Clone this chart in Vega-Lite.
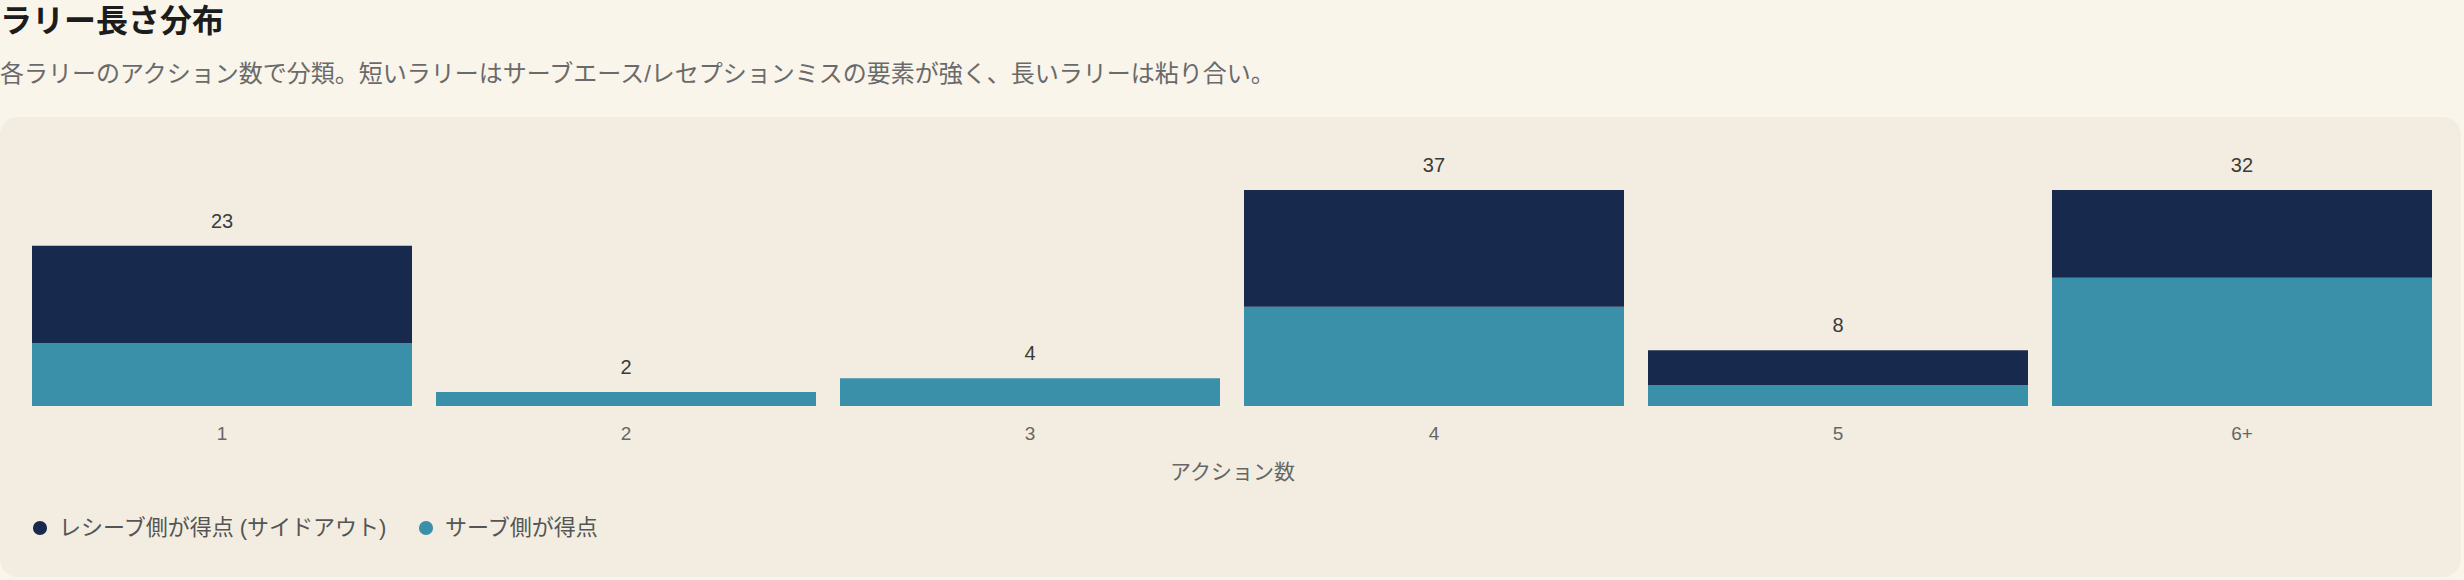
{
  "$schema": "https://vega.github.io/schema/vega-lite/v6.json",
  "width": 2464,
  "height": 580,
  "autosize": {"type": "fit", "contains": "padding"},
  "padding": {"left": 0, "top": 6, "right": 3, "bottom": 3},
  "background": "#F9F5EA",
  "title": {
    "text": "ラリー長さ分布",
    "subtitle": "各ラリーのアクション数で分類。短いラリーはサーブエース/レセプションミスの要素が強く、長いラリーは粘り合い。",
    "anchor": "start",
    "frame": "group",
    "font": "Liberation Sans, Noto Sans CJK JP",
    "fontSize": 32,
    "fontWeight": "bold",
    "color": "#1c1c1c",
    "subtitleFont": "Liberation Sans, Noto Sans CJK JP",
    "subtitleFontSize": 24,
    "subtitleColor": "#6a6a6a",
    "subtitlePadding": 24,
    "offset": 29
  },
  "data": {
    "values": [
      {"action": "1", "side": "サーブ側が得点", "count": 9},
      {"action": "1", "side": "レシーブ側が得点 (サイドアウト)", "count": 14},
      {"action": "2", "side": "サーブ側が得点", "count": 2},
      {"action": "2", "side": "レシーブ側が得点 (サイドアウト)", "count": 0},
      {"action": "3", "side": "サーブ側が得点", "count": 4},
      {"action": "3", "side": "レシーブ側が得点 (サイドアウト)", "count": 0},
      {"action": "4", "side": "サーブ側が得点", "count": 17},
      {"action": "4", "side": "レシーブ側が得点 (サイドアウト)", "count": 20},
      {"action": "5", "side": "サーブ側が得点", "count": 3},
      {"action": "5", "side": "レシーブ側が得点 (サイドアウト)", "count": 5},
      {"action": "6+", "side": "サーブ側が得点", "count": 19},
      {"action": "6+", "side": "レシーブ側が得点 (サイドアウト)", "count": 13}
    ]
  },
  "transform": [
    {"joinaggregate": [{"op": "sum", "field": "count", "as": "total"}], "groupby": ["action"]}
  ],
  "encoding": {
    "x": {
      "field": "action",
      "type": "ordinal",
      "sort": ["1", "2", "3", "4", "5", "6+"],
      "title": "アクション数",
      "scale": {"type": "band", "range": [32, 2432], "paddingInner": 0.0594, "paddingOuter": 0},
      "axis": {"labelAngle": 0, "offset": -171}
    }
  },
  "layer": [
    {
      "transform": [{"filter": "datum.total <= 31"}],
      "mark": {"type": "bar"},
      "encoding": {
        "y": {"field": "count", "type": "quantitative", "stack": "zero", "scale": {"domain": [0, 31], "range": [289, 73]}, "axis": null},
        "color": {
          "field": "side", "type": "nominal", "title": null,
          "scale": {"domain": ["レシーブ側が得点 (サイドアウト)", "サーブ側が得点"], "range": ["#172A4E", "#3A8FA9"]}
        },
        "order": {"field": "side", "sort": "ascending"}
      }
    },
    {
      "transform": [{"filter": "datum.total > 31"}],
      "mark": {"type": "bar"},
      "encoding": {
        "y": {"field": "count", "type": "quantitative", "stack": "normalize", "scale": {"domain": [0, 1], "range": [289, 73]}, "axis": null},
        "color": {
          "field": "side", "type": "nominal", "title": null,
          "scale": {"domain": ["レシーブ側が得点 (サイドアウト)", "サーブ側が得点"], "range": ["#172A4E", "#3A8FA9"]}
        },
        "order": {"field": "side", "sort": "ascending"}
      }
    },
    {
      "mark": {"type": "text", "font": "Liberation Sans", "fontSize": 20, "color": "#3a3a3a", "baseline": "alphabetic", "dy": -18},
      "encoding": {
        "y": {"aggregate": "sum", "field": "count", "type": "quantitative", "scale": {"domain": [0, 31], "range": [289, 73], "clamp": true}, "axis": null},
        "text": {"aggregate": "sum", "field": "count", "type": "quantitative"}
      }
    }
  ],
  "resolve": {"scale": {"y": "independent"}},
  "config": {
    "view": {"fill": "#F2EDE0", "stroke": null, "cornerRadius": 18},
    "axis": {
      "domain": false,
      "ticks": false,
      "grid": false,
      "labelFont": "Liberation Sans",
      "labelFontSize": 19,
      "labelColor": "#666666",
      "labelPadding": 18,
      "titleFont": "Liberation Sans, Noto Sans CJK JP",
      "titleFontSize": 21,
      "titleFontWeight": "normal",
      "titleColor": "#666666",
      "titlePadding": 18
    },
    "legend": {
      "orient": "none",
      "legendX": 29,
      "legendY": 400,
      "direction": "horizontal",
      "padding": 0,
      "symbolType": "circle",
      "symbolSize": 200,
      "symbolStrokeWidth": 0,
      "labelFont": "Liberation Sans, Noto Sans CJK JP",
      "labelFontSize": 22,
      "labelColor": "#555555",
      "labelOffset": 8,
      "columnPadding": 27,
      "labelLimit": 600
    }
  }
}
